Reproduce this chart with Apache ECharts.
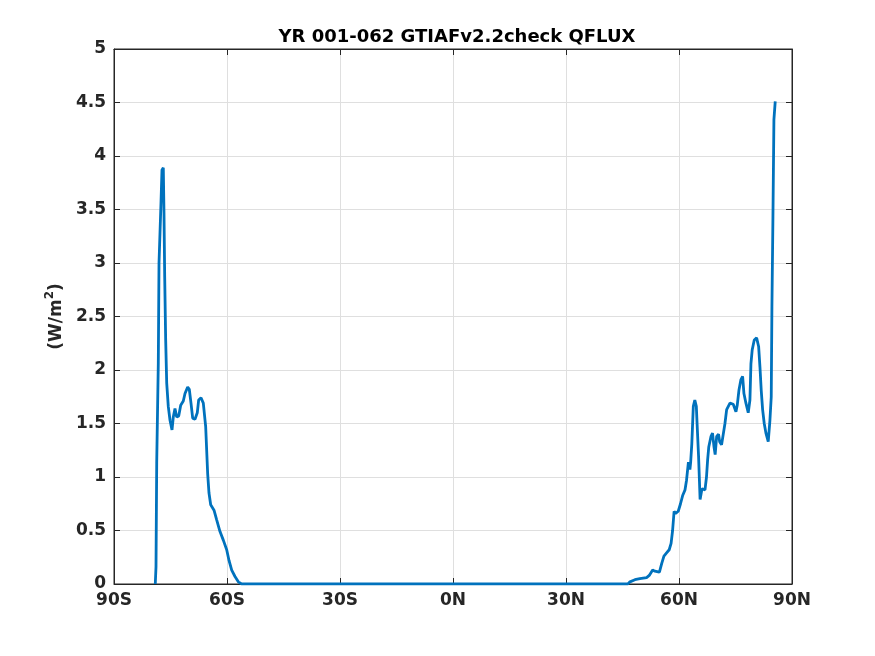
<!DOCTYPE html>
<html>
<head>
<meta charset="utf-8">
<script src="https://cdn.jsdelivr.net/npm/echarts@6/dist/echarts.min.js"></script>
<style>
  html, body { margin: 0; padding: 0; background: #fff; }
  #chart { width: 875px; height: 656px; }
</style>
</head>
<body>
<div id="chart"></div>
<script>
const latitudes = [
  -79.04, -78.85, -78.66, -78.24, -78.05, -77.79, -77.52, -77.26, -76.91, -76.73,
  -76.54, -76.28, -76.01, -75.59, -75.13, -74.60, -74.26, -73.81, -73.36, -72.82,
  -72.29, -71.60, -71.15, -70.44, -70.01, -69.56, -69.11, -68.50, -67.89, -67.52,
  -66.90, -66.29, -65.66, -65.13, -64.78, -64.33, -63.45, -62.74, -61.86, -60.98,
  -60.08, -59.47, -58.75, -57.88, -57.00, -56.10,
  46.40, 46.98, 48.30, 49.60, 51.40, 52.10, 53.00, 53.60, 54.80, 55.40,
  56.00, 56.70, 57.40, 57.90, 58.30, 58.70, 59.10, 59.80, 60.40, 61.00,
  61.60, 62.00, 62.50, 62.90, 63.10, 63.40, 63.80, 64.20, 64.60, 64.80,
  65.20, 65.60, 66.10, 66.90, 67.30, 67.60, 67.90, 68.50, 68.90, 69.30,
  69.60, 70.00, 70.50, 70.80, 71.30, 71.75, 72.20, 72.65, 73.53, 74.40,
  75.12, 75.46, 75.91, 76.44, 76.89, 77.24, 77.77, 78.38, 78.83, 79.10,
  79.44, 79.98, 80.61, 81.14, 81.49, 81.83, 82.20, 82.63, 83.08, 83.69,
  84.14, 84.49, 84.67, 84.94, 85.20, 85.55
];
const qflux = [
  0.00, 0.16, 1.13, 2.06, 3.00, 3.28, 3.57, 3.87, 3.89, 3.47,
  2.87, 2.28, 1.88, 1.66, 1.53, 1.44, 1.56, 1.64, 1.56, 1.57,
  1.67, 1.71, 1.78, 1.84, 1.82, 1.69, 1.55, 1.54, 1.60, 1.72,
  1.74, 1.69, 1.47, 1.03, 0.85, 0.74, 0.69, 0.60, 0.49, 0.41,
  0.32, 0.22, 0.13, 0.07, 0.02, 0.00,
  0.00, 0.02, 0.04, 0.05, 0.06, 0.08, 0.13, 0.12, 0.11, 0.19,
  0.26, 0.29, 0.32, 0.38, 0.50, 0.68, 0.66, 0.68, 0.75, 0.83,
  0.88, 0.97, 1.14, 1.07, 1.14, 1.31, 1.66, 1.72, 1.66, 1.50,
  1.19, 0.79, 0.89, 0.88, 1.00, 1.16, 1.28, 1.38, 1.41, 1.28,
  1.21, 1.38, 1.40, 1.33, 1.30, 1.31, 1.50, 1.63, 1.69, 1.68,
  1.61, 1.67, 1.81, 1.91, 1.94, 1.78, 1.69, 1.60, 1.72, 2.06,
  2.19, 2.28, 2.30, 2.22, 2.03, 1.81, 1.63, 1.50, 1.41, 1.33,
  1.53, 1.75, 2.59, 3.43, 4.34, 4.51
];
const xTicks = [-90, -60, -30, 0, 30, 60, 90];
const xTickLabels = ['90S', '60S', '30S', '0N', '30N', '60N', '90N'];

const chart = echarts.init(document.getElementById('chart'));
const axisColor = '#262626';
const font = 'DejaVu Sans';

const option = {
  animation: false,
  title: {
    text: 'YR 001-062 GTIAFv2.2check QFLUX',
    left: 452,
    top: 23,
    textAlign: 'center',
    textStyle: { fontFamily: font, fontWeight: 'bold', fontSize: 18, color: '#000' },
  },
  grid: { left: 114, right: 83, top: 49, bottom: 72, show: true, borderColor: axisColor, borderWidth: 1 },
  xAxis: [{
    type: 'value',
    min: -90, max: 90, interval: 30,
    axisLine: { show: true, onZero: false, lineStyle: { color: axisColor } },
    axisTick: { show: true, inside: true, length: 6, lineStyle: { color: axisColor } },
    axisLabel: {
      color: axisColor, fontFamily: font, fontWeight: 'bold', fontSize: 17, margin: 8,
      formatter: v => xTickLabels[xTicks.indexOf(v)],
    },
    splitLine: { show: true, lineStyle: { color: '#dfdfdf' } },
  }, {
    type: 'value', position: 'top',
    min: -90, max: 90, interval: 30,
    axisLine: { show: true, onZero: false, lineStyle: { color: axisColor } },
    axisTick: { show: true, inside: true, length: 6, lineStyle: { color: axisColor } },
    axisLabel: { show: false },
    splitLine: { show: false },
  }],
  yAxis: [{
    type: 'value',
    min: 0, max: 5, interval: 0.5,
    name: '{a|(W/m}{b|2}{a|)}',
    nameLocation: 'middle',
    nameRotate: 90,
    nameGap: 41,
    nameTextStyle: {
      rich: {
        a: { fontFamily: font, fontWeight: 'bold', fontSize: 17, color: axisColor },
        b: { fontFamily: font, fontWeight: 'bold', fontSize: 12, color: axisColor, padding: [0, 0, 14, 0] },
      },
    },
    axisLine: { show: true, onZero: false, lineStyle: { color: axisColor } },
    axisTick: { show: true, inside: true, length: 6, lineStyle: { color: axisColor } },
    axisLabel: { color: axisColor, fontFamily: font, fontWeight: 'bold', fontSize: 17, margin: 8 },
    splitLine: { show: true, lineStyle: { color: '#dfdfdf' } },
  }, {
    type: 'value', position: 'right',
    min: 0, max: 5, interval: 0.5,
    axisLine: { show: true, onZero: false, lineStyle: { color: axisColor } },
    axisTick: { show: true, inside: true, length: 6, lineStyle: { color: axisColor } },
    axisLabel: { show: false },
    splitLine: { show: false },
  }],
  series: [{
    type: 'line',
    xAxisIndex: 0,
    yAxisIndex: 0,
    showSymbol: false,
    symbol: 'none',
    lineStyle: { color: '#0072BD', width: 2.8 },
    data: latitudes.map((lat, i) => [lat, qflux[i]]),
  }],
};
chart.setOption(option);
</script>
</body>
</html>
